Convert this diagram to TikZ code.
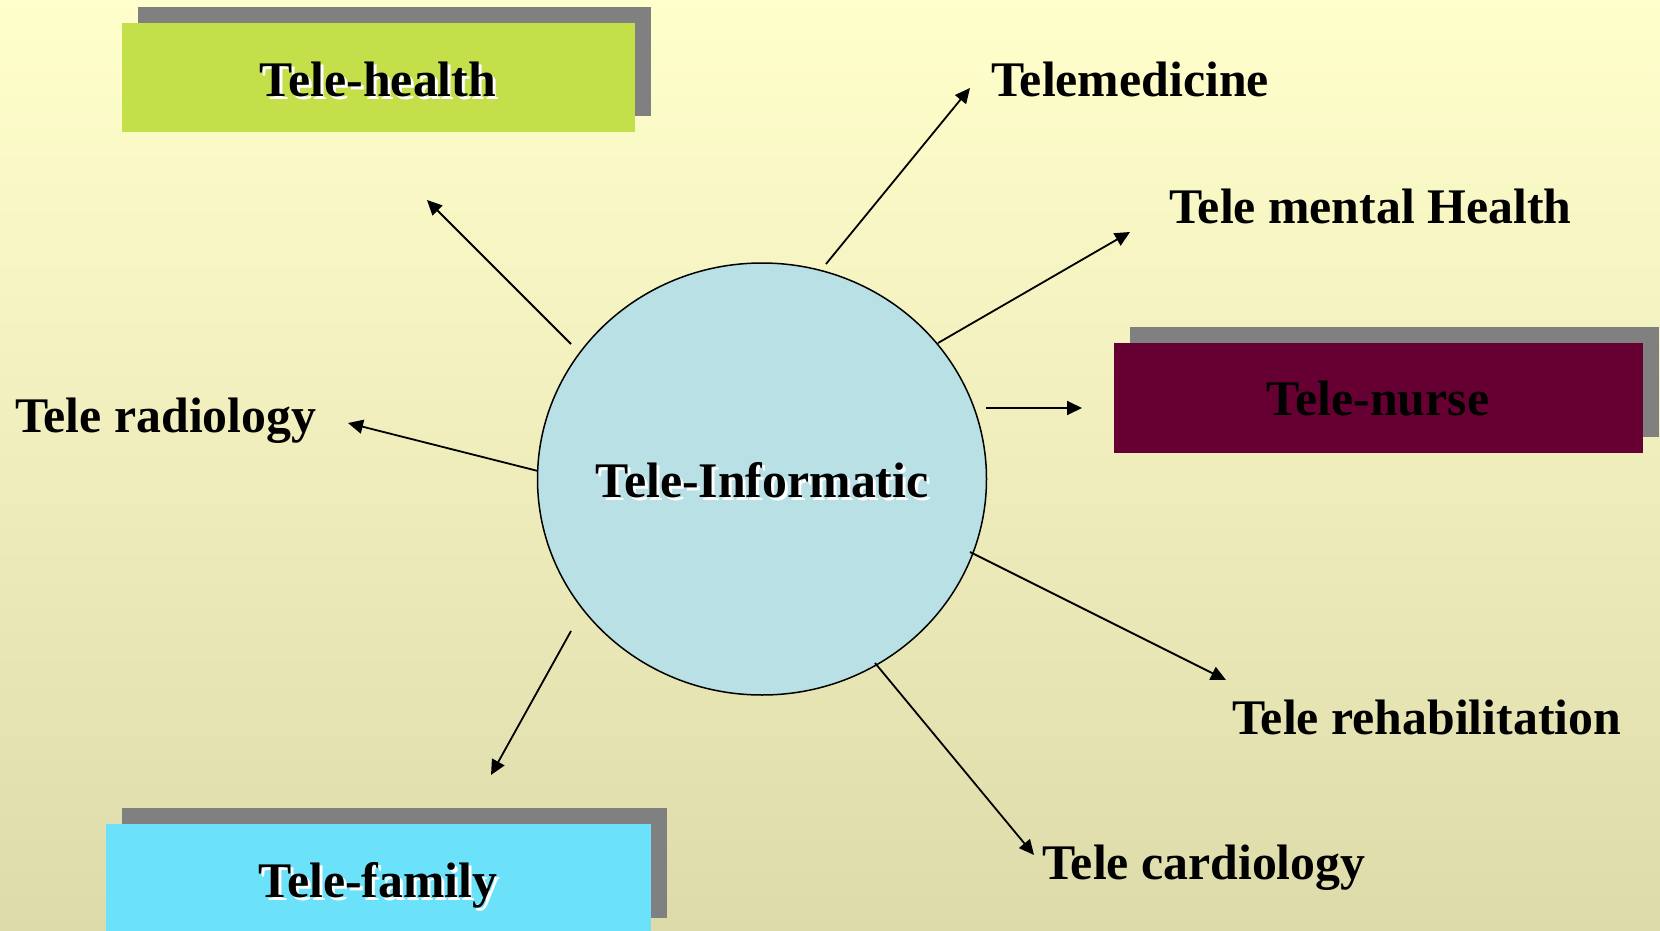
\documentclass[tikz,border=0pt]{standalone}
\usepackage{fontspec}
\setmainfont{Liberation Serif}
\usetikzlibrary{arrows.meta,shapes.geometric}
\definecolor{bgtop}{RGB}{255,255,204}
\definecolor{bgbot}{RGB}{222,219,171}
\definecolor{circ}{RGB}{185,224,228}
\definecolor{hgreen}{RGB}{195,224,74}
\definecolor{fcyan}{RGB}{108,226,250}
\definecolor{nmaroon}{RGB}{102,0,51}
\definecolor{shad}{RGB}{128,128,128}
\begin{document}
\begin{tikzpicture}[x=1pt,y=-1pt,
  txt/.style={font=\fontsize{49.8}{60}\selectfont\bfseries, inner sep=0pt},
  lbl/.style={txt, anchor=base west},
  ctr/.style={txt, anchor=base},
  wsh/.style={ctr, text=white},
  arr/.style={line width=1.8pt, -{Triangle[length=15pt,width=14pt]}},
  ]
\useasboundingbox (0,0) rectangle (1660,931);
\shade[top color=bgtop, bottom color=bgbot] (0,0) rectangle (1660,931);

% boxes with shadows
\fill[shad] (138,7) rectangle (651,116);
\fill[hgreen] (122,23) rectangle (635,132);
\fill[shad] (1130,327) rectangle (1659,437);
\fill[nmaroon] (1114,343) rectangle (1643,453);
\fill[shad] (122,808) rectangle (667,918);
\fill[fcyan] (106,824) rectangle (651,931);

% centre ellipse
\node[ellipse, draw=black, line width=1.5pt, fill=circ, minimum width=449pt, minimum height=432pt, inner sep=0pt] (inf) at (762,479) {};
\node[wsh] at (765,500) {Tele-Informatic};
\node[ctr] (inftxt) at (762,497) {Tele-Informatic};

% box labels
\node[wsh] at (381,100) {Tele-health};
\node[ctr] (health) at (378,97) {Tele-health};
\node[ctr] (nurse) at (1378,415) {Tele-nurse};
\node[wsh] at (381,900) {Tele-family};
\node[ctr] (family) at (378,897) {Tele-family};

% plain labels
\node[lbl] (medicine) at (991,97) {Telemedicine};
\node[lbl] (mental) at (1169,223) {Tele mental Health};
\node[lbl] (radio) at (15,432) {Tele radiology};
\node[lbl] (rehab) at (1232,734) {Tele rehabilitation};
\node[lbl] (cardio) at (1042,879) {Tele cardiology};

% arrow end points
\coordinate (s1) at (571,344);  \coordinate (e1) at (427,200);
\coordinate (s2) at (826,264);  \coordinate (e2) at (970,88);
\coordinate (s3) at (938,343);  \coordinate (e3) at (1130,232);
\coordinate (s4) at (986,408);  \coordinate (e4) at (1082,408);
\coordinate (s5) at (538,471);  \coordinate (e5) at (348,423);
\coordinate (s6) at (571,631);  \coordinate (e6) at (491,775);
\coordinate (s7) at (970,552);  \coordinate (e7) at (1226,680);
\coordinate (s8) at (875,663);  \coordinate (e8) at (1034,855);

\draw[arr] (s1) -- (e1);
\draw[arr] (s2) -- (e2);
\draw[arr] (s3) -- (e3);
\draw[arr] (s4) -- (e4);
\draw[arr] (s5) -- (e5);
\draw[arr] (s6) -- (e6);
\draw[arr] (s7) -- (e7);
\draw[arr] (s8) -- (e8);
\end{tikzpicture}
\end{document}
